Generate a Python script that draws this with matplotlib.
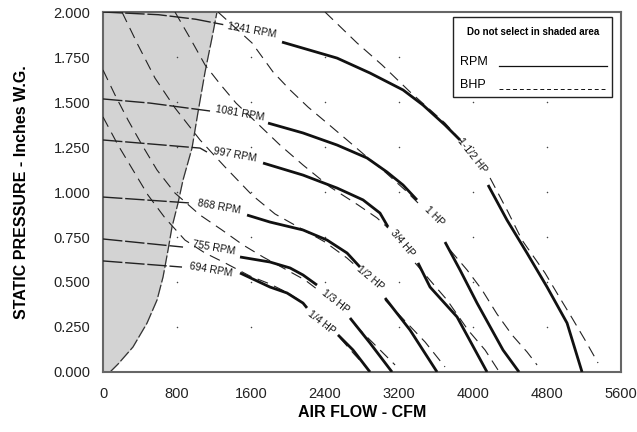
import numpy as np
import matplotlib
matplotlib.use('Agg')
import matplotlib.pyplot as plt
from matplotlib.patches import Rectangle

nan = np.nan

# x ticks (CFM) and y ticks (in. W.G.)
x_ticks = [0, 800, 1600, 2400, 3200, 4000, 4800, 5600]
y_ticks = [0.0, 0.25, 0.5, 0.75, 1.0, 1.25, 1.5, 1.75, 2.0]

# shaded "do not select" region boundary
shade_cfm = [76, 162, 324, 476, 584, 649, 703, 746, 811, 865, 962, 1027, 1103, 1178, 1232]
shade_sp = [0.0, 0.044, 0.139, 0.272, 0.40, 0.528, 0.678, 0.806, 0.939, 1.067, 1.244, 1.444, 1.667, 1.856, 2.0]

# RPM curves: part inside shaded area, then main part (nan = gap for the HP label)
rpm_names = ["1241 RPM", "1081 RPM", "997 RPM", "868 RPM", "755 RPM", "694 RPM"]

rpm1241_in_cfm = [0, 600, 1000, 1300]
rpm1241_in_sp = [2.0, 1.985, 1.96, 1.93]
rpm1241_cfm = [1935, 2530, 2886, 3243, 3459, 3697, 3859, nan, 4162, 4367, 4583, 4800, 5016, 5178]
rpm1241_sp = [1.833, 1.744, 1.661, 1.567, 1.483, 1.372, 1.289, nan, 1.039, 0.844, 0.661, 0.472, 0.272, 0.0]

rpm1081_in_cfm = [0, 508, 1157]
rpm1081_in_sp = [1.517, 1.494, 1.45]
rpm1081_cfm = [1784, 2162, 2530, 2854, 3070, 3243, 3394, nan, 3697, 3859, 4043, 4324, 4497]
rpm1081_sp = [1.383, 1.328, 1.261, 1.189, 1.111, 1.039, 0.956, nan, 0.722, 0.567, 0.383, 0.122, 0.0]

rpm997_in_cfm = [0, 1049, 1124]
rpm997_in_sp = [1.289, 1.244, 1.222]
rpm997_cfm = [1730, 2162, 2530, 2811, 2994, 3081, nan, 3405, 3535, 3827, 4151]
rpm997_sp = [1.161, 1.094, 1.022, 0.956, 0.883, 0.806, nan, 0.606, 0.472, 0.306, 0.0]

rpm868_in_cfm = [0, 940]
rpm868_in_sp = [0.972, 0.939]
rpm868_cfm = [1557, 1805, 2162, 2422, 2638, 2778, nan, 3049, 3319, 3611]
rpm868_sp = [0.872, 0.833, 0.789, 0.733, 0.661, 0.583, nan, 0.411, 0.233, 0.0]

rpm755_in_cfm = [0, 865]
rpm755_in_sp = [0.739, 0.694]
rpm755_cfm = [1481, 1805, 2022, 2162, 2313, nan, 2670, 2886, 3124]
rpm755_sp = [0.639, 0.611, 0.578, 0.539, 0.483, nan, 0.30, 0.161, 0.0]

rpm694_in_cfm = [0, 854]
rpm694_in_sp = [0.617, 0.583]
rpm694_cfm = [1481, 1805, 1989, 2162, 2205, nan, 2540, 2703, 2886]
rpm694_sp = [0.55, 0.472, 0.439, 0.383, 0.356, nan, 0.206, 0.122, 0.0]

rpm_label_cfm = [1611, 1481, 1427, 1254, 1200, 1167]
rpm_label_sp = [1.90, 1.439, 1.206, 0.917, 0.689, 0.567]

# BHP curves (dashed)
bhp_names = ["1-1/2 HP", "1 HP", "3/4 HP", "1/2 HP", "1/3 HP", "1/4 HP"]

bhp150_cfm = [2400, 2746, 3016, 3319, 3697, 3881, nan, 4184, 4378, 4529, 4778, 4919, 5070, 5210, 5351]
bhp150_sp = [2.0, 1.828, 1.706, 1.556, 1.383, 1.278, nan, 1.078, 0.889, 0.733, 0.55, 0.428, 0.30, 0.178, 0.05]

bhp100_cfm = [1243, 1611, 1838, 2022, 2216, 2422, 2638, 2854, 3049, 3265, 3405, nan,
              3751, 3935, 4097, 4259, 4421, 4584, 4692]
bhp100_sp = [2.0, 1.828, 1.667, 1.567, 1.472, 1.383, 1.289, 1.194, 1.111, 1.011, 0.939, nan,
             0.678, 0.567, 0.456, 0.322, 0.206, 0.111, 0.039]

bhp075_cfm = [778, 940, 1103, 1265, 1438, 1665, 1913, 2162, 2454, 2757, 2962, 3081, nan,
              3373, 3514, 3719, 3946, 4130, 4270]
bhp075_sp = [2.0, 1.856, 1.706, 1.60, 1.494, 1.383, 1.261, 1.15, 1.028, 0.928, 0.856, 0.80, nan,
             0.606, 0.522, 0.40, 0.233, 0.122, 0.011]

bhp050_cfm = [205, 378, 562, 778, 1049, 1319, 1611, 1859, 2130, 2400, 2638, 2757, nan,
              3049, 3286, 3481, 3697]
bhp050_sp = [2.0, 1.817, 1.633, 1.467, 1.289, 1.139, 0.983, 0.878, 0.80, 0.722, 0.633, 0.578, nan,
             0.40, 0.272, 0.167, 0.028]

bhp033_cfm = [0, 130, 270, 422, 584, 778, 1049, 1286, 1513, 1730, 1968, 2184, 2324, nan,
              2724, 2908, 3157]
bhp033_sp = [1.678, 1.539, 1.40, 1.261, 1.122, 0.994, 0.872, 0.789, 0.706, 0.639, 0.572, 0.511, 0.456, nan,
             0.261, 0.167, 0.039]

bhp025_cfm = [0, 162, 324, 486, 670, 886, 1103, 1319, 1589, 1805, 2000, 2151, nan,
              2562, 2724, 2854]
bhp025_sp = [1.417, 1.261, 1.122, 0.983, 0.856, 0.733, 0.661, 0.606, 0.533, 0.489, 0.439, 0.389, nan,
             0.189, 0.094, 0.022]

bhp_label_cfm = [3989, 3578, 3232, 2886, 2508, 2357]
bhp_label_sp = [1.206, 0.867, 0.717, 0.522, 0.394, 0.278]
bhp_label_rot = [-52, -45, -50, -40, -38, -38]


def main():
    plt.rcParams['font.family'] = ['Liberation Sans', 'DejaVu Sans']

    fig = plt.figure(figsize=(6.37, 4.32), dpi=100)
    ax = fig.add_axes([0.1617, 0.1389, 0.8133, 0.8333])

    # shaded area
    ax.fill_betweenx(shade_sp, 0, shade_cfm, color='#d3d3d3', lw=0, zorder=0)
    ax.plot(shade_cfm, shade_sp, color='#333333', lw=0.9, dashes=(10, 2), zorder=2)

    # grid dots
    gx, gy = np.meshgrid(x_ticks[1:-1], y_ticks[1:-1])
    ax.scatter(gx.ravel(), gy.ravel(), s=1.2, color='#444444', lw=0, zorder=1)

    # BHP lines
    bhp_lines = [(bhp150_cfm, bhp150_sp), (bhp100_cfm, bhp100_sp), (bhp075_cfm, bhp075_sp),
                 (bhp050_cfm, bhp050_sp), (bhp033_cfm, bhp033_sp), (bhp025_cfm, bhp025_sp)]
    for cfm, sp in bhp_lines:
        ax.plot(cfm, sp, color='#222222', lw=0.8, dashes=(10, 6), zorder=3)

    # RPM lines
    rpm_lines = [(rpm1241_in_cfm, rpm1241_in_sp, rpm1241_cfm, rpm1241_sp),
                 (rpm1081_in_cfm, rpm1081_in_sp, rpm1081_cfm, rpm1081_sp),
                 (rpm997_in_cfm, rpm997_in_sp, rpm997_cfm, rpm997_sp),
                 (rpm868_in_cfm, rpm868_in_sp, rpm868_cfm, rpm868_sp),
                 (rpm755_in_cfm, rpm755_in_sp, rpm755_cfm, rpm755_sp),
                 (rpm694_in_cfm, rpm694_in_sp, rpm694_cfm, rpm694_sp)]
    for in_cfm, in_sp, cfm, sp in rpm_lines:
        ax.plot(in_cfm, in_sp, color='#222222', lw=1.0, dashes=(14, 2), zorder=3)
        ax.plot(cfm, sp, color='#111111', lw=2.0, solid_capstyle='butt', zorder=4)

    for name, x, y in zip(rpm_names, rpm_label_cfm, rpm_label_sp):
        ax.text(x, y, name, fontsize=7.5, rotation=-10, ha='center', va='center',
                rotation_mode='anchor', color='#111111', zorder=5)
    for name, x, y, r in zip(bhp_names, bhp_label_cfm, bhp_label_sp, bhp_label_rot):
        ax.text(x, y, name, fontsize=7.5, rotation=r, ha='center', va='center',
                rotation_mode='anchor', color='#111111', zorder=5)

    # legend box
    ax.add_patch(Rectangle((0.676, 0.764), 0.307, 0.222, transform=ax.transAxes,
                           facecolor='white', edgecolor='#222222', lw=1.0, zorder=6))
    ax.text(0.830, 0.944, "Do not select in shaded area", transform=ax.transAxes,
            fontsize=7, fontweight='bold', ha='center', va='center', zorder=7)
    ax.text(0.689, 0.861, "RPM", transform=ax.transAxes, fontsize=9,
            ha='left', va='center', zorder=7)
    ax.text(0.689, 0.797, "BHP", transform=ax.transAxes, fontsize=9,
            ha='left', va='center', zorder=7)
    ax.plot([0.765, 0.973], [0.850, 0.850], transform=ax.transAxes,
            color='#111111', lw=0.9, zorder=7)
    ax.plot([0.765, 0.973], [0.786, 0.786], transform=ax.transAxes,
            color='#111111', lw=0.7, dashes=(4, 3), zorder=7)

    ax.set_xlim(0, 5600)
    ax.set_ylim(0, 2.0)
    ax.set_xticks(x_ticks)
    ax.set_xticklabels([str(v) for v in x_ticks])
    ax.set_yticks(y_ticks)
    ax.set_yticklabels(["%.3f" % v for v in y_ticks])
    ax.tick_params(length=0, labelsize=10.5, colors='#222222')
    ax.tick_params(axis='x', pad=11)
    ax.tick_params(axis='y', pad=9)
    for s in ax.spines.values():
        s.set_color('#666666')
        s.set_linewidth(1.5)

    ax.set_xlabel("AIR FLOW - CFM", fontsize=11.5, fontweight='bold', labelpad=3)
    ax.set_ylabel("STATIC PRESSURE - Inches W.G.", fontsize=11.5, fontweight='bold', labelpad=18)

    fig.savefig("out.png", dpi=100)


if __name__ == "__main__":
    main()
